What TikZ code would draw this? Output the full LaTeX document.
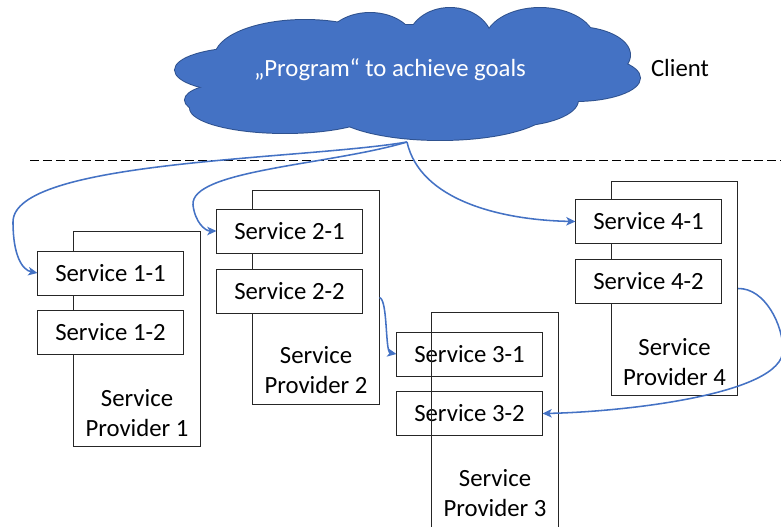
\documentclass[tikz,border=0pt]{standalone}
\usepackage{fontspec}
\setmainfont{Carlito}
\usepackage{xcolor}
\usetikzlibrary{arrows.meta}

\definecolor{cloudblue}{HTML}{4472C4}
\definecolor{cloudedge}{HTML}{2F528F}

\tikzset{
  provider/.style={draw=black!85, line width=0.7pt, minimum width=3.15cm, minimum height=5.35cm, inner sep=0pt},
  service/.style={draw=black!85, line width=0.7pt, fill=white, minimum width=3.625cm, minimum height=1.1cm, inner sep=0pt},
  provlabel/.style={align=center},
  call/.style={draw=cloudblue, line width=1.1pt, -{Stealth[length=2.3mm,width=2.1mm,inset=0.6mm]}}
}

\begin{document}
\begin{tikzpicture}[x=0.025cm, y=-0.025cm, font=\fontsize{17.6}{21.3}\selectfont]
      \useasboundingbox (0,0) rectangle (781,526);
      % client side: cloud as a union of puffs (outline first, then fill)
      \def\puffs{245/70/70/22, 235/100/50/17, 305/57/90/37, 370/45/45/32, 450/42/42/34,
                 540/42/55/34, 575/55/55/28, 575/78/65/23, 510/100/68/26, 440/108/110/32,
                 285/108/95/25, 410/75/180/50}
      \foreach \cx/\cy/\rx/\ry in \puffs
        \draw[cloudedge, line width=1.4pt] (\cx,\cy) ellipse [x radius=\rx, y radius=\ry];
      \foreach \cx/\cy/\rx/\ry in \puffs
        \fill[cloudblue] (\cx,\cy) ellipse [x radius=\rx, y radius=\ry];
      \coordinate (cloudfoot) at (407,142);
      \node[text=white] (goal) at (390,70) {„Program“ to achieve goals};
      \node (client) at (680,68) {Client};
      \draw[dashed, dash pattern=on 6.4pt off 2.8pt, line width=0.7pt] (30,160) -- (781,160);
      % service providers
      \node[provider] (p1) at (137,339) {};
      \node[provider] (p2) at (316,297.5) {};
      \node[provider] (p4) at (674.5,288.5) {};
      \node[provlabel] (l1) at (137,413) {Service\\Provider 1};
      \node[provlabel] (l2) at (316,370) {Service\\Provider 2};
      \node[provlabel] (l4) at (674.5,362) {Service\\Provider 4};
      \node[service] (s11) at (110.5,273) {Service 1-1};
      \node[service] (s12) at (110.5,332.5) {Service 1-2};
      \node[service] (s21) at (289.5,231) {Service 2-1};
      \node[service] (s22) at (289.5,291) {Service 2-2};
      \node[service] (s41) at (648.5,221.5) {Service 4-1};
      \node[service] (s42) at (648.5,281) {Service 4-2};
      \node[service, fill=none] (s31) at (469.5,354) {Service 3-1};
      \node[service, fill=none] (s32) at (469.5,413.5) {Service 3-2};
      \node[provider, minimum height=5.5cm, anchor=north] (p3) at (495,312) {};
      \node[provlabel] (l3) at (495,493) {Service\\Provider 3};
      % calls
      \draw[call] (cloudfoot) .. controls (300,160) and (13,160) .. (13,222) .. controls (13,255) and (22,270) .. (s11.west);
      \draw[call] (cloudfoot) .. controls (330,165) and (190,170) .. (193,205) .. controls (195,222) and (205,231) .. (s21.west);
      \draw[call] (cloudfoot) .. controls (420,200) and (500,220) .. (s41.west);
      \draw[call] (p2.east) .. controls (388,300) and (385,352) .. (s31.west);
      \draw[call] (p4.east) .. controls (765,288) and (783,325) .. (783,350) .. controls (783,395) and (620,412) .. (s32.east);
    \end{tikzpicture}
\end{document}
